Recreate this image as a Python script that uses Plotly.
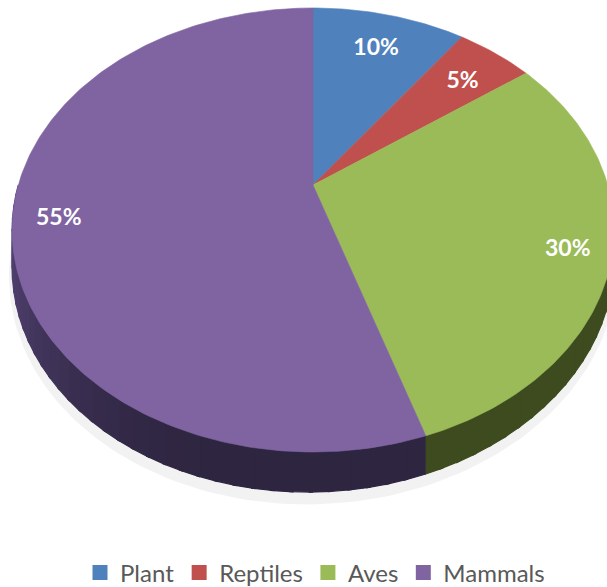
import numpy as np
import plotly.graph_objects as go

# ---- data ----
labels = ["Plant", "Reptiles", "Aves", "Mammals"]
values = [10, 5, 30, 55]
colors = ["#4F81BD", "#C0504D", "#9BBB59", "#8064A2"]
wall_colors = ["#27405e", "#602826", "#3d4b1f", "#2e2540"]

# ---- 3D pie geometry (pixel space of the window) ----
CX, CY = 313, 185        # projected centre of the pie
A, B, K = 294.7, 212.9, 0.2026   # radii and perspective factor
T = 32                   # thickness
label_r = [0.8, 0.8, 0.86, 0.85]
LABEL_DY = 5
W, H = 607, 587


def proj(phi_deg, r=1.0, drop=0.0):
    phi = np.radians(phi_deg)
    u = r * np.sin(phi)
    v = r * np.cos(phi)
    w = 1 + K * v
    d = drop * (1 - 0.12 * np.sin(phi))
    return CX + A * u / w, CY - B * v / w + d / w


def shade(hexc, f):
    h = hexc.lstrip("#")
    rgb = [int(h[i:i + 2], 16) for i in (0, 2, 4)]
    rgb = [min(255, int(c * f)) for c in rgb]
    return "rgb(%d,%d,%d)" % tuple(rgb)


fig = go.Figure()

total = sum(values)
bounds = np.concatenate([[0], np.cumsum(values)]) / total * 360.0

# soft shadow
sa = np.linspace(90, 270, 120)
sx1, sy1 = proj(sa, 1.0, 0)
sx2, sy2 = proj(sa[::-1], 1.01, T + 7)
fig.add_trace(go.Scatter(x=np.concatenate([sx1, sx2]), y=np.concatenate([sy1, sy2]),
                         fill="toself", fillcolor="rgba(0,0,0,0.05)", mode="lines",
                         line=dict(width=0, color="rgba(0,0,0,0)"),
                         hoverinfo="skip", showlegend=False))

# side walls (front half only), split into shaded segments
for i in range(len(values)):
    a0, a1 = max(bounds[i], 90), min(bounds[i + 1], 270)
    if a1 <= a0:
        continue
    n = max(2, int((a1 - a0) / 3))
    edges = np.linspace(a0, a1, n + 1)
    for j in range(n):
        seg = np.linspace(edges[j], min(edges[j + 1] + 0.6, a1), 4)
        tx, ty = proj(seg)
        bx, by = proj(seg[::-1], 1.0, T)
        mid = np.radians((edges[j] + edges[j + 1]) / 2)
        f = 1 + 0.8 * max(0.0, -np.sin(mid)) ** 3
        c = shade(wall_colors[i], f)
        fig.add_trace(go.Scatter(x=np.concatenate([tx, bx]), y=np.concatenate([ty, by]),
                                 fill="toself", fillcolor=c, mode="lines",
                                 line=dict(width=1.2, color=c),
                                 hoverinfo="skip", showlegend=False))

# top faces
for i in range(len(values)):
    arc = np.linspace(bounds[i], bounds[i + 1], max(8, int(values[i] * 4)))
    ax_, ay_ = proj(arc)
    xs = np.concatenate([[CX], ax_, [CX]])
    ys = np.concatenate([[CY], ay_, [CY]])
    fig.add_trace(go.Scatter(x=xs, y=ys, fill="toself", fillcolor=colors[i], mode="lines",
                             line=dict(width=0.6, color=colors[i]),
                             hoverinfo="skip", showlegend=False))

# data labels
lx, ly, lt = [], [], []
for i in range(len(values)):
    mid = (bounds[i] + bounds[i + 1]) / 2
    x, y = proj(mid, label_r[i])
    lx.append(x)
    ly.append(y + LABEL_DY)
    lt.append("<b>%d%%</b>" % values[i])
fig.add_trace(go.Scatter(x=lx, y=ly, text=lt, mode="text",
                         textfont=dict(family="Lato, Open Sans, sans-serif", size=23, color="white"),
                         hoverinfo="skip", showlegend=False))

# legend entries
for i in range(len(values)):
    fig.add_trace(go.Scatter(x=[None], y=[None], mode="markers", name=labels[i],
                             marker=dict(symbol="square", size=15, color=colors[i])))

fig.update_layout(
    width=W, height=H, autosize=False,
    margin=dict(l=0, r=0, t=0, b=0, autoexpand=False),
    paper_bgcolor="white", plot_bgcolor="white",
    xaxis=dict(range=[0, W], visible=False, fixedrange=True),
    yaxis=dict(range=[H, 0], visible=False, fixedrange=True),
    legend=dict(orientation="h", x=315 / W, xanchor="center",
                y=(H - 573) / H, yanchor="middle",
                font=dict(family="Lato, Open Sans, sans-serif", size=24, color="#595959"),
                itemwidth=30, bgcolor="rgba(0,0,0,0)"),
    showlegend=True,
)

fig.write_html("out.html", config={"displayModeBar": False, "staticPlot": True},
               post_script="document.body.style.margin='0';document.body.style.overflow='hidden';")
